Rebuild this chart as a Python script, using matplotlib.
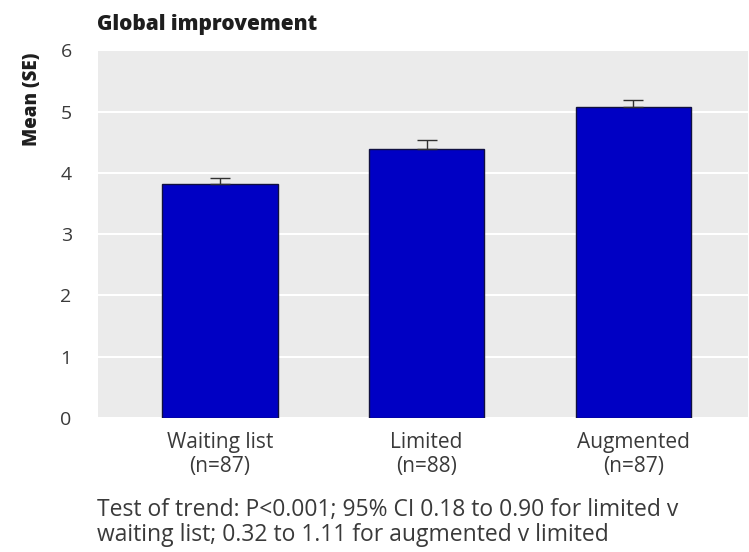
import matplotlib
matplotlib.use('Agg')
import matplotlib.pyplot as plt
import numpy as np

plt.rcParams['font.family'] = ['Open Sans', 'DejaVu Sans']

# Mean global improvement score per group, with standard error
groups = ['Waiting list\n(n=87)', 'Limited\n(n=88)', 'Augmented\n(n=87)']
means = [3.82, 4.38, 5.08]
se = [0.10, 0.16, 0.10]
yticks = [0, 1, 2, 3, 4, 5, 6]

fig = plt.figure(figsize=(7.49, 5.52), dpi=100)
ax = fig.add_axes([0.131, 0.243, 0.868, 0.666])
ax.set_facecolor('#ebebeb')

x = np.arange(len(groups))
ax.bar(x, means, width=0.557, color='#0000c4', edgecolor='#101040', linewidth=1.0, zorder=3)
ax.errorbar(x, means, yerr=[np.zeros(len(se)), se], fmt='none', ecolor='#303030',
            elinewidth=1.0, capsize=7, capthick=1.0, zorder=4)

ax.set_xlim(-0.59, 2.557)
ax.set_ylim(0, 6.0)
ax.set_yticks(yticks)
ax.set_yticklabels([str(t) for t in yticks], fontsize=14, color='#3a3a3a')
ax.set_xticks(x)
ax.set_xticklabels(groups, fontsize=15, color='#3a3a3a', linespacing=1.2)
ax.tick_params(length=0, pad=19, axis='y')
ax.tick_params(length=0, pad=10, axis='x')
ax.grid(axis='y', color='white', linewidth=1.5, zorder=0)
for s in ax.spines.values():
    s.set_visible(False)

fig.text(0.130, 0.955, 'Global improvement', fontsize=15, fontweight='heavy', color='#1e1e1e',
         ha='left', va='center')
fig.text(0.043, 0.82, 'Mean (SE)', fontsize=13.5, fontweight='heavy', color='#1e1e1e',
         rotation=90, ha='center', va='center')
fig.text(0.130, 0.054, 'Test of trend: P<0.001; 95% CI 0.18 to 0.90 for limited v\n'
         'waiting list; 0.32 to 1.11 for augmented v limited',
         fontsize=16.5, color='#3a3a3a', ha='left', va='center', linespacing=1.05)

fig.savefig('out.png', dpi=100)
